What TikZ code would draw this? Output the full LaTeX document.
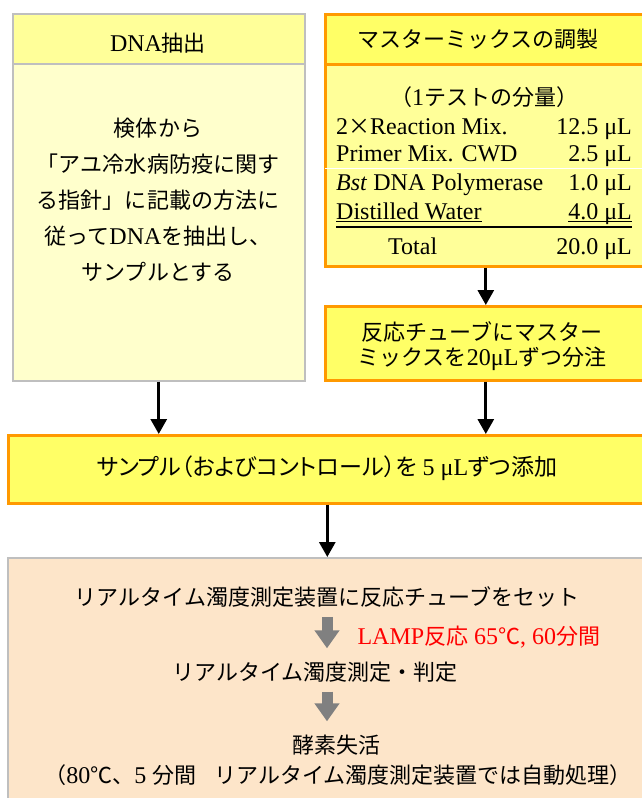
\documentclass[tikz,border=0pt]{standalone}
\usepackage{fontspec}
\setmainfont{Liberation Serif}
\newfontfamily\jpfont[Scale=0.9167]{Noto Sans CJK JP}
\newfontfamily\jppfont[Scale=0.96,RawFeature=+palt]{Noto Sans CJK JP}
\newcommand{\jp}[1]{{\jpfont #1}}
\newcommand{\jpp}[1]{{\jppfont #1}}
\usetikzlibrary{arrows.meta}

\definecolor{boxgrey}{RGB}{191,191,191}
\definecolor{boxorange}{RGB}{255,153,0}
\definecolor{paleyellow}{RGB}{255,255,204}
\definecolor{lightyellow}{RGB}{255,255,153}
\definecolor{deepyellow}{RGB}{255,255,102}
\definecolor{peach}{RGB}{253,229,201}
\definecolor{arrowgrey}{RGB}{128,128,128}

\tikzset{
  greybox/.style = {draw=boxgrey, line width=1.5pt, anchor=north west, inner sep=0pt},
  orangebox/.style = {draw=boxorange, line width=2.6pt, anchor=north west, inner sep=0pt},
  flowarrow/.style = {-{Triangle[length=15pt, width=16pt]}, line width=3pt},
  greyarrow/.style = {-{Triangle[length=18pt, width=24pt]}, line width=11pt, draw=arrowgrey}
}

\begin{document}
\begin{tikzpicture}[x=1pt, y=-1pt, font=\fontsize{24pt}{36pt}\selectfont]

  \useasboundingbox (0,0) rectangle (641,798);

  %% DNA extraction

  % Box and header
  \node[greybox, fill=paleyellow, minimum width=292pt, minimum height=367pt] (dnabox) at (12,13) {};
  \node[greybox, fill=lightyellow, minimum width=292pt, minimum height=50pt] (dnahead) at (12,13) {};
  \node (dnatitle) at (158,43) {DNA\jp{抽出}};

  % Text
  \node[align=center] (dnatext) at (158,200)
    {\jp{検体から}\\\jp{「アユ冷水病防疫に関す}\\\jp{る指針」に記載の方法に}\\\jp{従って}DNA\jp{を抽出し、}\\\jp{サンプルとする}};

  %% Master mix

  % Box and header
  \node[orangebox, fill=lightyellow, minimum width=321pt, minimum height=252pt] (mixbox) at (324,13) {};
  \node[orangebox, fill=deepyellow, minimum width=321pt, minimum height=50pt] (mixhead) at (324,13) {};
  \node (mixtitle) at (478,39) {\jp{マスターミックスの調製}};
  \node (perone) at (484,97) {\jp{（}1\jp{テストの分量）}};
  \draw[white, line width=1pt] (325,168) -- (644,168);

  % Table rows
  \node[anchor=base west, inner sep=0pt] (rmix) at (336,134) {2\jp{×}Reaction Mix.};
  \node[anchor=base east, inner sep=0pt] (rmixamt) at (632,134) {12.5 μL};
  \node[anchor=base west, inner sep=0pt] (primer) at (336,161) {Primer Mix. CWD};
  \node[anchor=base east, inner sep=0pt] (primeramt) at (632,161) {2.5 μL};
  \node[anchor=base west, inner sep=0pt] (bst) at (336,190) {\textit{Bst} DNA Polymerase};
  \node[anchor=base east, inner sep=0pt] (bstamt) at (632,190) {1.0 μL};
  \node[anchor=base west, inner sep=0pt] (water) at (336,219) {Distilled Water};
  \node[anchor=base east, inner sep=0pt] (wateramt) at (632,219) {4.0 μL};
  \node[anchor=base west, inner sep=0pt] (total) at (388,254) {Total};
  \node[anchor=base east, inner sep=0pt] (totalamt) at (632,254) {20.0 μL};

  % Underlines
  \draw[line width=0.8pt] ([yshift=-2.5pt]water.base west) -- ([yshift=-2.5pt]water.base east);
  \draw[line width=0.8pt] ([yshift=-2.5pt]wateramt.base west) -- ([yshift=-2.5pt]wateramt.base east);
  \draw[line width=2.6pt] ([yshift=-8pt]water.base west) -- ([yshift=-8pt]wateramt.base east);

  %% Dispensing
  \node[orangebox, fill=deepyellow, minimum width=321pt, minimum height=74pt] (tubebox) at (324,305) {};
  \node[align=center, font=\fontsize{24pt}{25.5pt}\selectfont] (tubetext) at (482,346)
    {\jp{反応チューブにマスター}\\\jp{ミックスを}20μL\jp{ずつ分注}};

  %% Adding the sample
  \node[orangebox, fill=deepyellow, minimum width=638pt, minimum height=68pt] (samplebox) at (7,434) {};
  \node (sampletext) at (327,468) {\jpp{サンプル（およびコントロール）を} 5 μL\jpp{ずつ添加}};

  %% Real-time turbidimeter
  \node[greybox, fill=peach, minimum width=638pt, minimum height=260pt] (lampbox) at (7,557) {};
  \node (set) at (327,597) {\jp{リアルタイム濁度測定装置に反応チューブをセット}};
  \node[anchor=west, text=red] (cond) at (354,637) {LAMP\jp{反応} 65\jp{℃}, 60\jp{分間}};
  \node (meas) at (315,672) {\jp{リアルタイム濁度測定・判定}};
  \node (inact) at (336,745) {\jp{酵素失活}};
  \node (detail) at (338,775) {\jp{（}80\jp{℃、}5 \jp{分間}\hspace{18pt}\jp{リアルタイム濁度測定装置では自動処理）}};

  % Grey steps
  \draw[greyarrow] ([yshift=-6pt]set.south) -- ([yshift=10pt]set.south |- meas.north);
  \draw[greyarrow] ([yshift=-6pt]set.south |- meas.south) -- ([yshift=10pt]set.south |- inact.north);

  %% Flow
  \draw[flowarrow] (dnabox.south) -- (dnabox.south |- samplebox.north);
  \draw[flowarrow] (mixbox.south) -- (tubebox.north);
  \draw[flowarrow] (tubebox.south) -- (tubebox.south |- samplebox.north);
  \draw[flowarrow] (samplebox.south) -- (samplebox.south |- lampbox.north);

\end{tikzpicture}
\end{document}
